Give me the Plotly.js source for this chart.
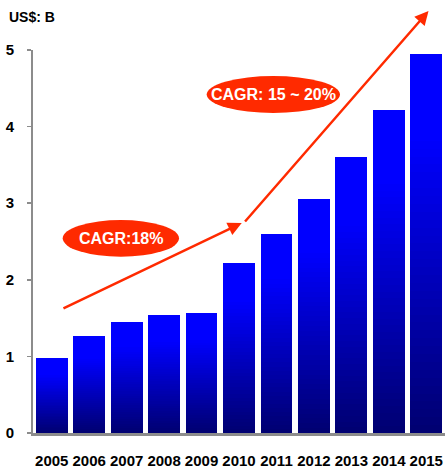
<!DOCTYPE html>
<html>
<head>
<meta charset="utf-8">
<script src="https://cdn.plot.ly/plotly-3.0.1.min.js"></script>
<style>html,body{margin:0;padding:0;background:#fff;}#chart{width:445px;height:468px;}</style>
</head>
<body>
<div id="chart"></div>
<script>
// Data
const years = ['2005','2006','2007','2008','2009','2010','2011','2012','2013','2014','2015'];
const revenue = [0.98, 1.26, 1.45, 1.54, 1.57, 2.22, 2.60, 3.05, 3.60, 4.22, 4.95];
const yTicks = [0, 1, 2, 3, 4, 5];
const unitLabel = 'US$: B';
const cagrLabels = ['CAGR:18%', 'CAGR: 15 ~ 20%'];

// Gradient bars built as stacked slices of each bar (bright blue top -> navy bottom)
const N = 48;
const traces = [];
for (let k = 0; k < N; k++) {
  const fromBottom = (k + 0.5) / N;
  const fromTop = 1 - fromBottom;
  let b;
  if (fromTop < 0.22) b = 255;
  else b = Math.round(255 - (fromTop - 0.22) / 0.78 * (255 - 112));
  traces.push({
    type: 'bar',
    x: years,
    y: revenue.map(v => v / N),
    marker: {color: 'rgb(0,0,' + b + ')', line: {width: 0}},
    hoverinfo: 'skip',
    showlegend: false
  });
}

const red = '#ff2a00';
const font = 'Liberation Sans, Arial, sans-serif';

const layout = {
  width: 445, height: 468,
  margin: {l: 33, r: 0, t: 50, b: 35},
  paper_bgcolor: '#fff', plot_bgcolor: '#fff',
  barmode: 'stack',
  bargap: 0.15,
  showlegend: false,
  xaxis: {
    type: 'category',
    range: [-0.5, 10.5],
    showline: true, linecolor: '#8c8c8c', linewidth: 2.5,
    showgrid: false, zeroline: false, ticks: '',
    ticklabelstandoff: 12,
    tickfont: {family: font, size: 15, color: '#000', weight: 'bold'},
    fixedrange: true
  },
  yaxis: {
    range: [0, 5],
    tickvals: yTicks,
    ticktext: yTicks.map(String),
    showline: true, linecolor: '#8c8c8c', linewidth: 2,
    showgrid: false, zeroline: false,
    ticks: 'outside', ticklen: 4, tickwidth: 1.5, tickcolor: '#8c8c8c',
    ticklabelstandoff: 10,
    tickfont: {family: font, size: 15, color: '#000', weight: 'bold'},
    fixedrange: true
  },
  shapes: [
    {type: 'circle', xref: 'paper', yref: 'paper', x0: 0.0721, x1: 0.3544, y0: 0.4603, y1: 0.5561,
     fillcolor: red, line: {width: 0}, layer: 'above'},
    {type: 'circle', xref: 'paper', yref: 'paper', x0: 0.4216, x1: 0.7451, y0: 0.8355, y1: 0.9321,
     fillcolor: red, line: {width: 0}, layer: 'above'}
  ],
  annotations: [
    {xref: 'paper', yref: 'paper', x: -0.063, y: 1.086, xanchor: 'left', yanchor: 'middle',
     text: unitLabel, showarrow: false,
     font: {family: font, size: 14, color: '#000', weight: 'bold'}},
    {xref: 'paper', yref: 'paper', x: 0.2133, y: 0.508, xanchor: 'center', yanchor: 'middle',
     text: cagrLabels[0], showarrow: false,
     font: {family: font, size: 16, color: '#fff', weight: 'bold'}},
    {xref: 'paper', yref: 'paper', x: 0.5834, y: 0.8838, xanchor: 'center', yanchor: 'middle',
     text: cagrLabels[1], showarrow: false,
     font: {family: font, size: 16, color: '#fff', weight: 'bold'}},
    {xref: 'x', yref: 'y', axref: 'x', ayref: 'y', x: 5.073, y: 2.742, ax: 0.273, ay: 1.619,
     text: '', showarrow: true, arrowhead: 2, arrowsize: 1.1, arrowwidth: 2.5, arrowcolor: red, standoff: 0},
    {xref: 'x', yref: 'y', axref: 'x', ayref: 'y', x: 10.06, y: 5.509, ax: 5.127, ay: 2.742,
     text: '', showarrow: true, arrowhead: 2, arrowsize: 1.1, arrowwidth: 2.5, arrowcolor: red, standoff: 0}
  ]
};

Plotly.newPlot('chart', traces, layout, {staticPlot: true, displayModeBar: false});
</script>
</body>
</html>
